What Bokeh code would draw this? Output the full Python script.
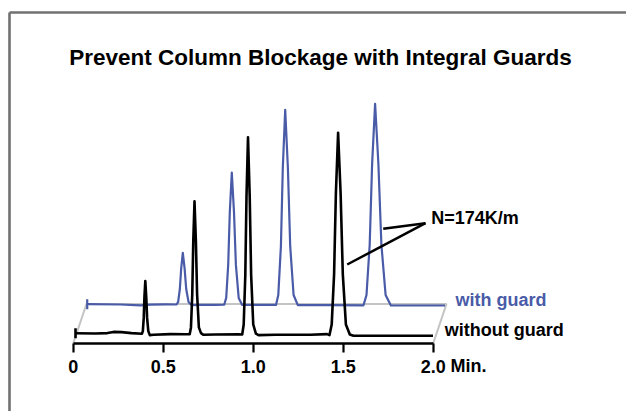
from bokeh.plotting import figure
from bokeh.models import Range1d, LinearAxis, FixedTicker, PrintfTickFormatter, Label
from bokeh.embed import file_html
from bokeh.resources import INLINE

# ---- data (time in min, detector response in arbitrary units) ----
black_t = [0.0128, 0.1239, 0.1906, 0.2239, 0.2683, 0.3239, 0.3822, 0.3869, 0.3919, 0.3958,
           0.4006, 0.4058, 0.4106, 0.4172, 0.4256, 0.4461, 0.5406, 0.6239,
           0.6472, 0.6542, 0.6614, 0.6671, 0.6739, 0.6816, 0.6883, 0.6981, 0.7100, 0.7239,
           0.7906, 0.9183,
           0.9389, 0.9472, 0.9561, 0.9628, 0.9711, 0.9806, 0.9886, 1.0003, 1.0150, 1.0294,
           1.1239, 1.3183, 1.4100,
           1.4239, 1.4361, 1.4494, 1.4594, 1.4717, 1.4856, 1.4978, 1.5150, 1.5367, 1.5572,
           1.7072, 1.9989]
black_y = [10.3, 10.0, 10.4, 11.6, 11.4, 10.4, 9.8, 12.4, 25.6, 46.7,
           62.5, 46.7, 25.6, 12.4, 8.4, 8.8, 9.4, 9.2,
           9.2, 16.1, 49.3, 102.5, 142.3, 102.5, 49.3, 16.1, 10.4, 8.7,
           9.0, 9.1,
           9.0, 19.0, 68.3, 147.2, 206.3, 147.2, 68.3, 19.0, 9.8, 8.4,
           8.8, 8.7, 9.4,
           8.4, 18.9, 69.4, 150.2, 210.8, 150.2, 69.4, 18.9, 9.0, 7.7,
           7.8, 7.8]

blue_t = [0.0778, 0.2628, 0.3739, 0.4294, 0.5128,
          0.5739, 0.5831, 0.5925, 0.6000, 0.6089, 0.6189, 0.6278, 0.6406, 0.6567,
          0.7072, 0.7906,
          0.8389, 0.8500, 0.8611, 0.8700, 0.8811, 0.8933, 0.9039, 0.9194, 0.9389,
          1.0406,
          1.1267, 1.1394, 1.1539, 1.1644, 1.1778, 1.1928, 1.2056, 1.2244, 1.2478,
          1.4294,
          1.6128, 1.6294, 1.6472, 1.6606, 1.6772, 1.6956, 1.7122, 1.7356, 1.7650,
          1.8739, 2.0656]
blue_y = [39.3, 39.0, 38.2, 38.8, 39.1,
          39.0, 41.6, 54.5, 75.2, 90.7, 75.2, 54.5, 41.6, 38.4,
          38.6, 38.7,
          38.8, 45.6, 78.6, 131.4, 171.0, 131.4, 78.6, 45.6, 38.6,
          38.7,
          38.6, 48.5, 97.3, 175.2, 233.7, 175.2, 97.3, 48.5, 38.4,
          38.4,
          38.2, 48.5, 98.8, 179.3, 239.7, 179.3, 98.8, 48.5, 38.0,
          38.0, 38.0]

tick_values = [0, 0.5, 1.0, 1.5, 2.0]
axis_start, axis_end = 0.0, 2.0
depth_dt, depth_dy = 0.074, 39.6          # pseudo-3D offset of the back trace
callout_tip = (1.9572, 120.3)
callout_ends_t = [1.7222, 1.5222]
callout_ends_y = [114.7, 79.0]

title_text = "Prevent Column Blockage with Integral Guards"
label_with = "with guard"
label_without = "without guard"
label_n = "N=174K/m"
unit_text = "Min."

BLUE = "#4a5ba8"
FONT = "Liberation Sans"

p = figure(width=626, height=411, output_backend="svg", toolbar_location=None,
           x_range=Range1d(-0.4039, 3.0739), y_range=Range1d(-68, 343),
           x_axis_type=None, y_axis_type=None, min_border=0)
p.grid.visible = False
p.outline_line_color = None
p.background_fill_color = "white"
p.border_fill_color = "white"

# frame border (top and left)
p.line([-0.3539, 3.3], [331, 331], line_color="#707070", line_width=2.6)
p.line([-0.3539, -0.3539], [-80, 331], line_color="#707070", line_width=2.6)

# floor of the pseudo-3D view
p.line([axis_start, axis_start + depth_dt, axis_end + depth_dt, axis_end],
       [0, depth_dy, depth_dy, 0], line_color="#c4c4c4", line_width=2)

# traces
p.line(blue_t, blue_y, line_color=BLUE, line_width=2.2, line_join="round")
p.segment(x0=[blue_t[0]], y0=[blue_y[0] - 5], x1=[blue_t[0]], y1=[blue_y[0] + 5],
          line_color=BLUE, line_width=2.2)
p.line(black_t, black_y, line_color="black", line_width=2.6, line_join="round")
p.segment(x0=[black_t[0]], y0=[black_y[0] - 5], x1=[black_t[0]], y1=[black_y[0] + 5],
          line_color="black", line_width=2.6)

# callout
p.segment(x0=[callout_tip[0]] * 2, y0=[callout_tip[1]] * 2,
          x1=callout_ends_t, y1=callout_ends_y, line_color="black", line_width=2.5)

# x axis
ax = LinearAxis(fixed_location=0, bounds=(axis_start, axis_end),
                ticker=FixedTicker(ticks=tick_values),
                formatter=PrintfTickFormatter(format="%.1f"),
                major_label_overrides={0: "0"})
ax.axis_line_width = 2.5
ax.axis_line_color = "black"
ax.major_tick_line_width = 2.2
ax.major_tick_in = 0
ax.major_tick_out = 9
ax.minor_tick_line_color = None
ax.major_label_standoff = 7
ax.major_label_text_font = FONT
ax.major_label_text_font_style = "bold"
ax.major_label_text_font_size = "18px"
ax.major_label_text_color = "black"
p.add_layout(ax, "below")

def add_text(x, y, text, size, color="black", align="left"):
    p.add_layout(Label(x=x, y=y, text=text, text_font=FONT, text_font_style="bold",
                       text_font_size=size, text_baseline="alphabetic", text_align=align,
                       text_color=color))

add_text(2.0961, -22.0, unit_text, "18px")
add_text(1.3739, 286.5, title_text, "22.5px", align="center")
add_text(2.1239, 43.5, label_with, "18px", color=BLUE)
add_text(2.0644, 13.8, label_without, "18px")
add_text(1.9889, 126.0, label_n, "18px")

open("out.html", "w").write(file_html(p, INLINE))
